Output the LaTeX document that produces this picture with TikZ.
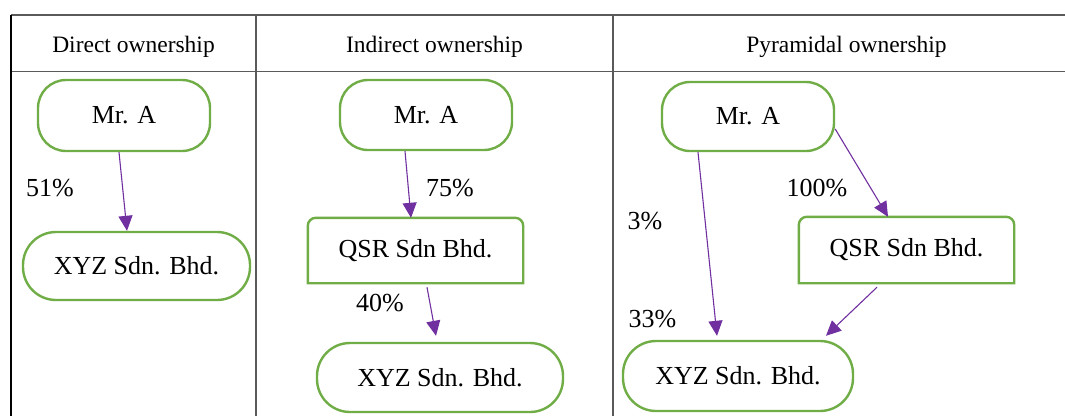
\documentclass[tikz,border=0pt]{standalone}
\usepackage{fontspec}
\setmainfont{Liberation Serif}
\usetikzlibrary{arrows.meta,calc}
\definecolor{boxgreen}{HTML}{70AD47}
\definecolor{linkpurple}{HTML}{7030A0}
\definecolor{rulegray}{HTML}{5A5A5A}
\tikzset{
  rule/.style={draw=rulegray, line width=1.6pt},
  head/.style={font=\fontsize{23.5}{28}\selectfont, anchor=base},
  pill/.style={draw=boxgreen, line width=2.4pt, rounded corners=30pt,
    inner sep=0pt, font=\fontsize{26}{30}\selectfont},
  firm/.style={inner sep=0pt, font=\fontsize{26}{30}\selectfont},
  firmline/.style={draw=boxgreen, line width=2.4pt},
  share/.style={font=\fontsize{26}{30}\selectfont, inner sep=0pt},
  link/.style={draw=linkpurple, line width=1.1pt,
    -{Triangle[length=15pt,width=14pt]}}
}
\begin{document}
\begin{tikzpicture}[x=1pt,y=1pt]
\useasboundingbox (0,0) rectangle (1065,-416);

% table rules
\draw[rule] (11,-15) -- (1065,-15);
\draw[rule] (11,-71.5) -- (1065,-71.5);
\draw[draw=black, line width=1.3pt] (11,-15) -- (11,-416);
\draw[rule] (256,-15) -- (256,-416);
\draw[rule] (613,-15) -- (613,-416);

% column headings
\node[head] (h1) at (133.5,-52) {Direct ownership};
\node[head] (h2) at (434.5,-52) {Indirect ownership};
\node[head] (h3) at (846.5,-52) {Pyramidal ownership};

% direct ownership
\node[pill, minimum width=172pt, minimum height=71pt, rounded corners=28pt] (a1) at (124,-115.5) {Mr. A};
\node[pill, minimum width=227pt, minimum height=68pt, rounded corners=33pt] (x1) at (136.5,-266) {XYZ Sdn. Bhd.};
\draw[link] ([xshift=-5pt]a1.south) -- ([xshift=-9.5pt]x1.north);
\node[share] (p51) at (50,-188) {51\%};

% indirect ownership
\node[pill, minimum width=172pt, minimum height=70pt, rounded corners=28pt] (a2) at (426,-115) {Mr. A};
\node[firm, minimum width=215pt, minimum height=65pt] (q2) at (415.5,-250.5) {QSR Sdn Bhd.};
\draw[firmline] (q2.south west) -- ([yshift=-8pt]q2.north west)
  arc[start angle=180, end angle=90, radius=8pt] -- ([xshift=-8pt]q2.north east)
  arc[start angle=90, end angle=0, radius=8pt] -- (q2.south east) -- cycle;
\node[pill, minimum width=246pt, minimum height=69pt, rounded corners=33pt] (x2) at (440,-377.5) {XYZ Sdn. Bhd.};
\draw[link] ([xshift=-21pt]a2.south) -- ([xshift=-4.5pt]q2.north);
\draw[link] ([xshift=11.5pt,yshift=-4pt]q2.south) -- ([xshift=-4pt,yshift=6pt]x2.north);
\node[share] (p75) at (450,-188) {75\%};
\node[share] (p40) at (380,-303) {40\%};

% pyramidal ownership
\node[pill, minimum width=172pt, minimum height=69pt, rounded corners=28pt] (a3) at (748,-116.5) {Mr. A};
\node[firm, minimum width=215pt, minimum height=66pt] (q3) at (906.5,-250) {QSR Sdn Bhd.};
\draw[firmline] (q3.south west) -- ([yshift=-8pt]q3.north west)
  arc[start angle=180, end angle=90, radius=8pt] -- ([xshift=-8pt]q3.north east)
  arc[start angle=90, end angle=0, radius=8pt] -- (q3.south east) -- cycle;
\node[pill, minimum width=230pt, minimum height=70pt, rounded corners=33pt] (x3) at (738,-376) {XYZ Sdn. Bhd.};
\draw[link] ([yshift=-12.5pt]a3.east) -- ([xshift=-18.5pt]q3.north);
\draw[link] ([xshift=-50pt]a3.south) -- ([xshift=-21pt,yshift=4pt]x3.north);
\draw[link] ([xshift=-29.5pt,yshift=-4pt]q3.south) -- ([xshift=88pt,yshift=4pt]x3.north);
\node[share] (p100) at (817,-188) {100\%};
\node[share] (p3) at (645,-221) {3\%};
\node[share] (p33) at (652.5,-319) {33\%};
\end{tikzpicture}
\end{document}
